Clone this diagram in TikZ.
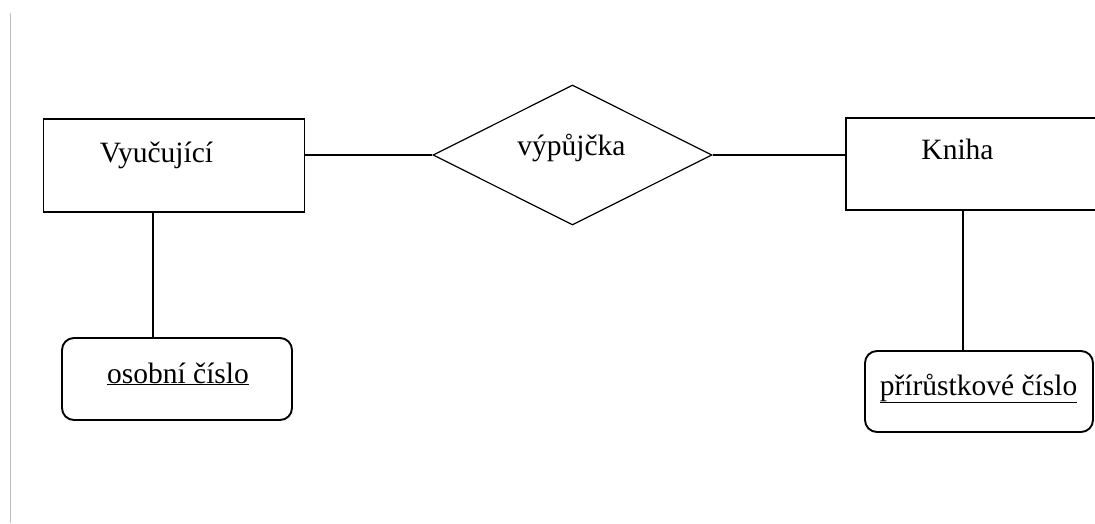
\documentclass[tikz,border=0pt]{standalone}
\usepackage{fontspec}
\setmainfont{Liberation Serif}
\usetikzlibrary{shapes.geometric}

\tikzset{
  entity/.style={draw,line width=1.9pt,inner sep=0pt},
  attrib/.style={draw,line width=1.9pt,rounded corners=12pt,inner sep=0pt},
  relship/.style={draw,diamond,line width=1.2pt,inner sep=0pt,minimum width=279pt,minimum height=140pt},
  lbl/.style={anchor=base,inner sep=0pt,font=\fontsize{29.5}{35}\selectfont},
}

\begin{document}
\begin{tikzpicture}[x=1pt,y=-1pt,line width=1.9pt]
\useasboundingbox (0,0) rectangle (1095,523);
\fill[white] (0,0) rectangle (1095,523);
\draw[gray!50,line width=1pt] (10,13) -- (10,523);
% entities
\node[entity,minimum width=261pt,minimum height=93pt] (vyuc) at (174,165.5) {};
\node[entity,minimum width=264pt,minimum height=92pt] (kniha) at (978,164) {};
% relationship
\node[relship] (vyp) at (572.5,155) {};
% key attributes
\node[attrib,minimum width=230pt,minimum height=82pt] (osc) at (177,379) {};
\node[attrib,minimum width=228pt,minimum height=81pt] (prc) at (979,391.5) {};
% texts
\node[lbl] (vyuc-t) at (156.5,162) {Vyučující};
\node[lbl] (vyp-t) at (571.5,155) {výpůjčka};
\node[lbl] (kniha-t) at (957.5,159) {Kniha};
\node[lbl] (osc-t) at (178,383) {\underline{osobní číslo}};
\node[lbl] (prc-t) at (978.5,395) {\underline{přírůstkové číslo}};
% connectors
\draw (vyp.west) -- (vyp.west -| vyuc.east);
\draw (vyp.east) -- (vyp.east -| kniha.west);
\draw ([xshift=-21pt]vyuc.south) -- ([xshift=-21pt]vyuc.south |- osc.north);
\draw ([xshift=-15pt]kniha.south) -- ([xshift=-15pt]kniha.south |- prc.north);
\end{tikzpicture}
\end{document}
